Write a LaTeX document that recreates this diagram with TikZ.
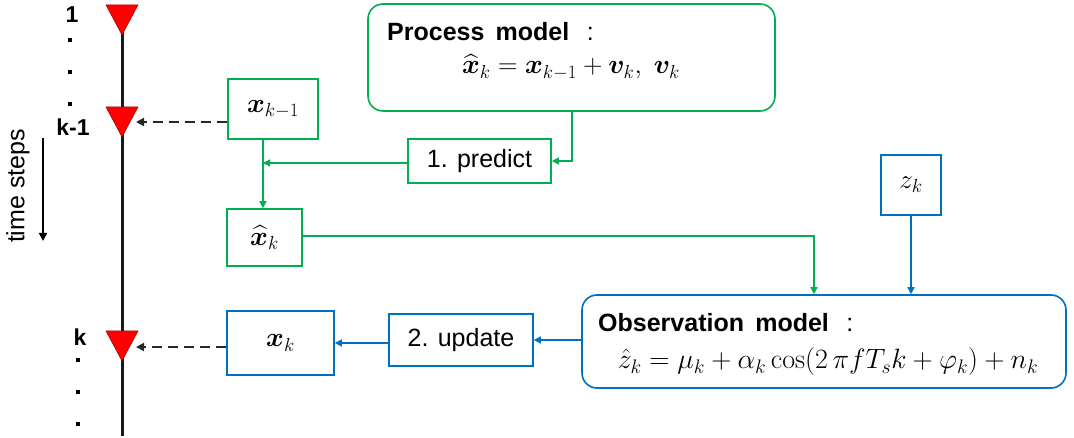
\RequirePackage{fix-cm}
\documentclass[tikz,border=0pt]{standalone}
\usepackage{amsmath}
\usepackage{bm}
\usepackage[no-math]{fontspec}
\setmainfont{Liberation Sans}
\usetikzlibrary{arrows.meta}
\definecolor{kgreen}{RGB}{0,176,80}
\definecolor{kblue}{RGB}{0,112,192}
\definecolor{kred}{RGB}{255,0,0}
\tikzset{
  gbox/.style={draw=kgreen, line width=1.6pt, fill=white, inner sep=0pt},
  bbox/.style={draw=kblue, line width=1.6pt, fill=white, inner sep=0pt},
  garrow/.style={draw=kgreen, line width=1.3pt, -{Triangle[length=7pt,width=7pt]}},
  barrow/.style={draw=kblue, line width=1.3pt, -{Triangle[length=7pt,width=7pt]}},
  dasharrow/.style={draw=black!85, line width=1.8pt, dash pattern=on 10pt off 6pt, -{Triangle[length=8pt,width=8pt]}},
  marker/.style={fill=kred, draw=red!60!black, line width=0.5pt},
  steplabel/.style={font=\fontsize{23}{26}\selectfont\bfseries, inner sep=0pt},
  tdot/.style={fill=black, inner sep=0pt, minimum size=3.6pt, rectangle},
  boxtext/.style={font=\fontsize{25}{28}\selectfont},
  mathtext/.style={font=\fontsize{27}{32}\selectfont},
}
\begin{document}
\begin{tikzpicture}[x=1pt, y=-1pt]
\useasboundingbox (0,0) rectangle (1074,438);

% time axis
\draw[line width=3pt, black!90] (122,22) -- (122,436);
\foreach \yy in {5,107,331}{
  \draw[marker] (106,\yy) -- (138,\yy) -- (122,\yy+30) -- cycle;
}
\coordinate (t2) at (136,122);
\coordinate (t3) at (136,347);

% step labels and dots
\node[steplabel] (s1) at (72,15) {1};
\node[steplabel] (skm1) at (73,127) {k-1};
\node[steplabel] (sk) at (80,337) {k};
\foreach \yy [count=\i] in {40,72,104}{ \node[tdot] (da\i) at (70,\yy) {}; }
\foreach \yy [count=\i] in {360,392,424}{ \node[tdot] (db\i) at (78,\yy) {}; }

% time direction
\node[rotate=90, font=\fontsize{25}{28}\selectfont, inner sep=0pt] (ts) at (18,186) {time steps};
\coordinate (ta) at (43,138);
\coordinate (tb) at (43,241);
\draw[line width=1.6pt, -{Triangle[length=8pt,width=8pt]}] (ta) -- (tb);

% state boxes
\node[gbox, minimum width=90pt, minimum height=60pt, mathtext] (xkm1) at (273,109)
  {$\bm{x}_{k-1}$};
\node[gbox, minimum width=75pt, minimum height=57pt, mathtext] (xhat) at (264.5,237.5)
  {$\widehat{\bm{x}}_{k}$};
\node[bbox, minimum width=107pt, minimum height=64pt, mathtext] (xk) at (280.5,343)
  {$\bm{x}_{k}$};
\node[bbox, minimum width=60pt, minimum height=60pt, mathtext] (zk) at (911,185)
  {$z_{k}$};

% step boxes
\node[gbox, minimum width=143pt, minimum height=44pt, boxtext] (pred) at (479.5,161) {1. predict};
\node[bbox, minimum width=144pt, minimum height=52pt, boxtext] (upd) at (461,340) {2. update};

% model boxes
\node[gbox, rounded corners=15pt, minimum width=407pt, minimum height=107pt] (proc) at (571.5,57.5) {};
\node[anchor=base west, boxtext, inner sep=0pt] (proct) at (387,41)
  {\bfseries Process\hspace{0.45em}model\hspace{0.7em}\mdseries:};
\node[anchor=base, inner sep=0pt, mathtext] (procf) at (571,74)
  {$\widehat{\bm{x}}_k = \bm{x}_{k-1} + \bm{v}_k,\ \bm{v}_k$};

\node[bbox, rounded corners=15pt, minimum width=484pt, minimum height=93pt] (obs) at (824,341.5) {};
\node[anchor=base west, boxtext, inner sep=0pt] (obst) at (598,332)
  {\bfseries Observation\hspace{0.45em}model\hspace{0.7em}\mdseries:};
\node[anchor=base, inner sep=0pt, font=\fontsize{28}{32}\selectfont] (obsf) at (828,369)
  {$\hat{z}_k = \mu_k + \alpha_k \cos(2\,\pi f T_s k + \varphi_k) + n_k$};

% prediction path
\draw[garrow] (proc.south -| 572,0) |- (pred.east);
\coordinate (jn) at (263,163);
\draw[garrow] (pred.west |- jn) -- (jn);
\draw[garrow] (xkm1.south -| jn) -- (xhat.north -| jn);
\coordinate (gturn) at (814,236);
\draw[garrow] (xhat.east |- gturn) -- (gturn) -- (obs.north -| gturn);

% update path
\draw[barrow] (zk.south) -- (obs.north -| zk.south);
\draw[barrow] (obs.west |- 0,340) -- (upd.east |- 0,340);
\draw[barrow] (upd.west |- 0,343) -- (xk.east |- 0,343);

% links to the time axis
\draw[dasharrow] (xkm1.west |- t2) -- (t2);
\draw[dasharrow] (xk.west |- t3) -- (t3);
\end{tikzpicture}
\end{document}
